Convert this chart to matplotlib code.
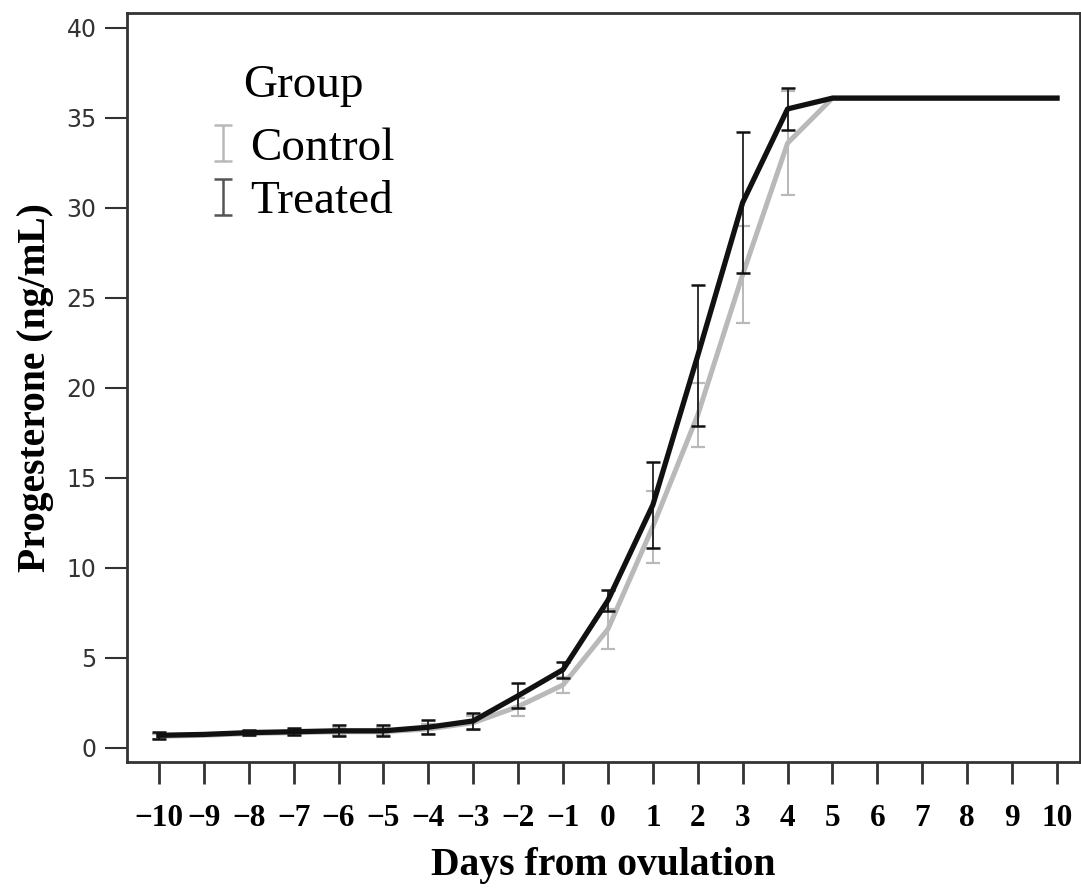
import matplotlib
matplotlib.use("Agg")
import matplotlib.pyplot as plt
import numpy as np
from matplotlib.path import Path
from matplotlib.lines import Line2D

days = np.arange(-10, 11)

# mean progesterone (ng/mL) and error bar half-widths
control_mean = [0.65, 0.7, 0.8, 0.85, 0.9, 0.9, 1.05, 1.4, 2.3, 3.5, 6.6,
                12.3, 18.5, 26.3, 33.6, 36.1, 36.1, 36.1, 36.1, 36.1, 36.1]
control_err = [0.15, 0, 0.15, 0.15, 0.2, 0.2, 0.3, 0.4, 0.5, 0.45, 1.1,
               2.0, 1.8, 2.7, 2.9, 0, 0, 0, 0, 0, 0]
treated_mean = [0.7, 0.75, 0.85, 0.9, 0.95, 0.95, 1.15, 1.5, 2.9, 4.35, 8.2,
                13.5, 21.8, 30.3, 35.5, 36.1, 36.1, 36.1, 36.1, 36.1, 36.1]
treated_err = [0.2, 0, 0.15, 0.2, 0.3, 0.3, 0.4, 0.45, 0.7, 0.45, 0.6,
               2.4, 3.9, 3.9, 1.15, 0, 0, 0, 0, 0, 0]

ctrl_col = "#b9b9b9"
trt_col = "#111111"

fig = plt.figure(figsize=(10.81, 8.89), dpi=100)
ax = fig.add_axes([0.1175, 0.1429, 0.8815, 0.8425])

cm, ce = np.array(control_mean), np.array(control_err)
tm, te = np.array(treated_mean), np.array(treated_err)

ax.plot(days, cm, color=ctrl_col, lw=3.6, zorder=2, solid_joinstyle="round")
m = ce > 0
ax.errorbar(days[m], cm[m], yerr=ce[m], fmt="none", ecolor=ctrl_col,
            elinewidth=1.4, capsize=5, capthick=1.6, zorder=2)

ax.plot(days, tm, color=trt_col, lw=3.8, zorder=3, solid_joinstyle="round")
m = te > 0
ax.errorbar(days[m], tm[m], yerr=te[m], fmt="none", ecolor=trt_col,
            elinewidth=1.2, capsize=5, capthick=1.8, zorder=3)

ax.set_xlim(-10.71, 10.51)
ax.set_ylim(-0.78, 40.83)
ax.set_xticks(days)
ax.set_yticks(np.arange(0, 41, 5))

for s in ax.spines.values():
    s.set_linewidth(2)
    s.set_color("#333333")

ax.tick_params(axis="x", length=16, width=2, color="#333333", pad=14,
               labelsize=22.5)
ax.tick_params(axis="y", length=16, width=1.5, color="#333333", pad=6,
               labelsize=17, labelcolor="#333333")
for lbl in ax.get_xticklabels():
    lbl.set_family("Liberation Serif")
    lbl.set_fontweight("bold")

ax.set_xlabel("Days from ovulation", fontsize=28.5, family="Liberation Serif",
              fontweight="bold", labelpad=10)
ax.set_ylabel("Progesterone (ng/mL)", fontsize=28.5, family="Liberation Serif",
              fontweight="bold", labelpad=9)

# error-bar shaped legend handles
ibar = Path([(-0.5, -1), (0.5, -1), (0, -1), (0, 1), (-0.5, 1), (0.5, 1)],
            [Path.MOVETO, Path.LINETO, Path.MOVETO, Path.LINETO, Path.MOVETO, Path.LINETO])
handles = [Line2D([], [], ls="none", marker=ibar, markersize=26, mew=1.8,
                  color=ctrl_col, markeredgecolor=ctrl_col),
           Line2D([], [], ls="none", marker=ibar, markersize=26, mew=1.8,
                  color="#555555", markeredgecolor="#555555")]
leg = ax.legend(handles, ["Control", "Treated"], title="Group", frameon=False,
                loc="upper left", bbox_to_anchor=(0.055, 0.975),
                prop={"family": "Liberation Serif", "size": 34},
                handlelength=0.45, handletextpad=0.35, labelspacing=0.22,
                borderpad=0.2)
leg.get_title().set_fontfamily("Liberation Serif")
leg.get_title().set_fontsize(34)
leg._legend_box.sep = 14

fig.savefig("out.png", dpi=100)
